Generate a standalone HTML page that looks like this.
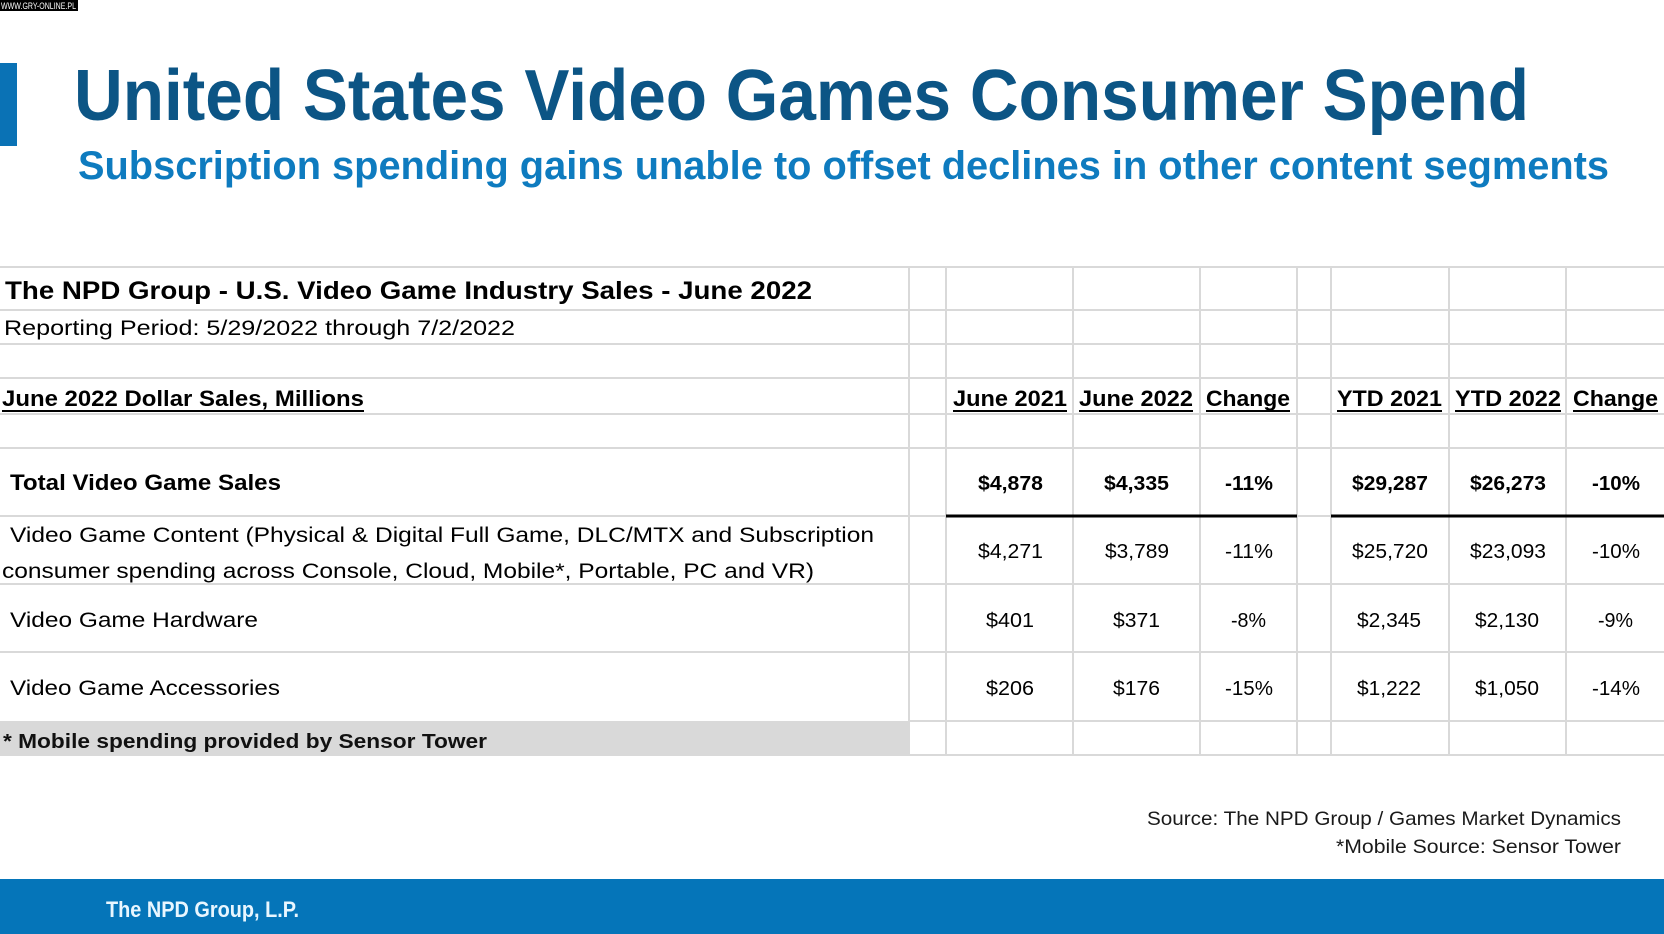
<!DOCTYPE html>
<html>
<head>
<meta charset="utf-8">
<style>
  html, body { margin:0; padding:0; background:#ffffff; }
  body { width:1664px; height:934px; overflow:hidden; }
  svg { display:block; }
  text { font-family: "Liberation Sans", "DejaVu Sans", sans-serif; }
</style>
</head>
<body>
<svg width="1664" height="934" viewBox="0 0 1664 934" xmlns="http://www.w3.org/2000/svg">
  <rect x="0" y="0" width="1664" height="934" fill="#ffffff"/>

  <!-- watermark -->
  <rect x="0" y="0" width="78" height="11" fill="#000000"/>
  <text x="1" y="9" font-size="9" fill="#ffffff" textLength="75" lengthAdjust="spacingAndGlyphs">WWW.GRY-ONLINE.PL</text>

  <!-- left accent bar -->
  <rect x="0" y="63" width="17" height="83" fill="#0a72b5"/>

  <!-- titles -->
  <text x="74" y="120" font-size="72" font-weight="bold" fill="#0c5585" textLength="1455" lengthAdjust="spacingAndGlyphs">United States Video Games Consumer Spend</text>
  <text x="78" y="179" font-size="40" font-weight="bold" fill="#0e7bbf" textLength="1531" lengthAdjust="spacingAndGlyphs">Subscription spending gains unable to offset declines in other content segments</text>

  <!-- footnote row gray fill -->
  <rect x="0" y="721" width="909" height="34" fill="#d9d9d9"/>

  <!-- horizontal grid lines -->
  <g stroke="#d9d9d9" stroke-width="2">
    <line x1="0" y1="267" x2="1664" y2="267"/>
    <line x1="0" y1="310" x2="1664" y2="310"/>
    <line x1="0" y1="344" x2="1664" y2="344"/>
    <line x1="0" y1="378" x2="1664" y2="378"/>
    <line x1="0" y1="414" x2="1664" y2="414"/>
    <line x1="0" y1="448" x2="1664" y2="448"/>
    <line x1="0" y1="516" x2="946" y2="516"/>
    <line x1="1297" y1="516" x2="1331" y2="516"/>
    <line x1="0" y1="584" x2="1664" y2="584"/>
    <line x1="0" y1="652" x2="1664" y2="652"/>
    <line x1="909" y1="721" x2="1664" y2="721"/>
    <line x1="0" y1="755" x2="1664" y2="755"/>
  </g>
  <!-- vertical grid lines -->
  <g stroke="#d9d9d9" stroke-width="2">
    <line x1="909" y1="267" x2="909" y2="755"/>
    <line x1="946" y1="267" x2="946" y2="755"/>
    <line x1="1073" y1="267" x2="1073" y2="755"/>
    <line x1="1200" y1="267" x2="1200" y2="755"/>
    <line x1="1297" y1="267" x2="1297" y2="755"/>
    <line x1="1331" y1="267" x2="1331" y2="755"/>
    <line x1="1449" y1="267" x2="1449" y2="755"/>
    <line x1="1566" y1="267" x2="1566" y2="755"/>
  </g>
  <!-- black rule under totals -->
  <g stroke="#000000" stroke-width="3">
    <line x1="946" y1="516" x2="1297" y2="516"/>
    <line x1="1331" y1="516" x2="1664" y2="516"/>
  </g>

  <!-- table header text -->
  <text x="5" y="299" font-size="25" font-weight="bold" fill="#000" textLength="807" lengthAdjust="spacingAndGlyphs">The NPD Group - U.S. Video Game Industry Sales - June 2022</text>
  <text x="4" y="335" font-size="21" fill="#000" textLength="511" lengthAdjust="spacingAndGlyphs">Reporting Period: 5/29/2022 through 7/2/2022</text>

  <text x="2" y="406" font-size="22" font-weight="bold" fill="#000" textLength="362" lengthAdjust="spacingAndGlyphs">June 2022 Dollar Sales, Millions</text>
  <text x="953" y="406" font-size="22" font-weight="bold" fill="#000" textLength="114" lengthAdjust="spacingAndGlyphs">June 2021</text>
  <text x="1079" y="406" font-size="22" font-weight="bold" fill="#000" textLength="114" lengthAdjust="spacingAndGlyphs">June 2022</text>
  <text x="1206" y="406" font-size="22" font-weight="bold" fill="#000" textLength="84" lengthAdjust="spacingAndGlyphs">Change</text>
  <text x="1337" y="406" font-size="22" font-weight="bold" fill="#000" textLength="105" lengthAdjust="spacingAndGlyphs">YTD 2021</text>
  <text x="1455" y="406" font-size="22" font-weight="bold" fill="#000" textLength="106" lengthAdjust="spacingAndGlyphs">YTD 2022</text>
  <text x="1573" y="406" font-size="22" font-weight="bold" fill="#000" textLength="85" lengthAdjust="spacingAndGlyphs">Change</text>
  <g stroke="#000" stroke-width="2">
    <line x1="2" y1="411" x2="364" y2="411"/>
    <line x1="953" y1="411" x2="1067" y2="411"/>
    <line x1="1079" y1="411" x2="1193" y2="411"/>
    <line x1="1206" y1="411" x2="1290" y2="411"/>
    <line x1="1337" y1="411" x2="1442" y2="411"/>
    <line x1="1455" y1="411" x2="1561" y2="411"/>
    <line x1="1573" y1="411" x2="1658" y2="411"/>
  </g>

  <!-- Total row -->
  <text x="10" y="490" font-size="22" font-weight="bold" fill="#000" textLength="271" lengthAdjust="spacingAndGlyphs">Total Video Game Sales</text>
  <g font-size="20" font-weight="bold" fill="#000">
    <text x="978" y="490" textLength="65" lengthAdjust="spacingAndGlyphs">$4,878</text>
    <text x="1104" y="490" textLength="65" lengthAdjust="spacingAndGlyphs">$4,335</text>
    <text x="1225" y="490" textLength="48" lengthAdjust="spacingAndGlyphs">-11%</text>
    <text x="1352" y="490" textLength="76" lengthAdjust="spacingAndGlyphs">$29,287</text>
    <text x="1470" y="490" textLength="76" lengthAdjust="spacingAndGlyphs">$26,273</text>
    <text x="1592" y="490" textLength="48" lengthAdjust="spacingAndGlyphs">-10%</text>
  </g>

  <!-- Content row -->
  <text x="10" y="542" font-size="21.5" fill="#000" textLength="864" lengthAdjust="spacingAndGlyphs">Video Game Content (Physical &amp; Digital Full Game, DLC/MTX and Subscription</text>
  <text x="2" y="578" font-size="21.5" fill="#000" textLength="812" lengthAdjust="spacingAndGlyphs">consumer spending across Console, Cloud, Mobile*, Portable, PC and VR)</text>
  <g font-size="20" fill="#000">
    <text x="978" y="558" textLength="65" lengthAdjust="spacingAndGlyphs">$4,271</text>
    <text x="1105" y="558" textLength="64" lengthAdjust="spacingAndGlyphs">$3,789</text>
    <text x="1225" y="558" textLength="48" lengthAdjust="spacingAndGlyphs">-11%</text>
    <text x="1352" y="558" textLength="76" lengthAdjust="spacingAndGlyphs">$25,720</text>
    <text x="1470" y="558" textLength="76" lengthAdjust="spacingAndGlyphs">$23,093</text>
    <text x="1592" y="558" textLength="48" lengthAdjust="spacingAndGlyphs">-10%</text>
  </g>

  <!-- Hardware row -->
  <text x="10" y="627" font-size="21.5" fill="#000" textLength="248" lengthAdjust="spacingAndGlyphs">Video Game Hardware</text>
  <g font-size="20" fill="#000">
    <text x="986" y="627" textLength="48" lengthAdjust="spacingAndGlyphs">$401</text>
    <text x="1113" y="627" textLength="47" lengthAdjust="spacingAndGlyphs">$371</text>
    <text x="1231" y="627" textLength="35" lengthAdjust="spacingAndGlyphs">-8%</text>
    <text x="1357" y="627" textLength="64" lengthAdjust="spacingAndGlyphs">$2,345</text>
    <text x="1475" y="627" textLength="64" lengthAdjust="spacingAndGlyphs">$2,130</text>
    <text x="1598" y="627" textLength="35" lengthAdjust="spacingAndGlyphs">-9%</text>
  </g>

  <!-- Accessories row -->
  <text x="10" y="695" font-size="21.5" fill="#000" textLength="270" lengthAdjust="spacingAndGlyphs">Video Game Accessories</text>
  <g font-size="20" fill="#000">
    <text x="986" y="695" textLength="48" lengthAdjust="spacingAndGlyphs">$206</text>
    <text x="1113" y="695" textLength="47" lengthAdjust="spacingAndGlyphs">$176</text>
    <text x="1225" y="695" textLength="48" lengthAdjust="spacingAndGlyphs">-15%</text>
    <text x="1357" y="695" textLength="64" lengthAdjust="spacingAndGlyphs">$1,222</text>
    <text x="1475" y="695" textLength="64" lengthAdjust="spacingAndGlyphs">$1,050</text>
    <text x="1592" y="695" textLength="48" lengthAdjust="spacingAndGlyphs">-14%</text>
  </g>

  <!-- footnote -->
  <text x="3" y="748" font-size="20" font-weight="bold" fill="#111" textLength="484" lengthAdjust="spacingAndGlyphs">* Mobile spending provided by Sensor Tower</text>

  <!-- sources -->
  <text x="1147" y="825" font-size="19.5" fill="#1a1a1a" textLength="474" lengthAdjust="spacingAndGlyphs">Source: The NPD Group / Games Market Dynamics</text>
  <text x="1336" y="853" font-size="19.5" fill="#1a1a1a" textLength="285" lengthAdjust="spacingAndGlyphs">*Mobile Source: Sensor Tower</text>

  <!-- footer band -->
  <rect x="0" y="879" width="1664" height="55" fill="#0575b9"/>
  <text x="106" y="917" font-size="22" font-weight="bold" fill="#e8f6ff" textLength="193" lengthAdjust="spacingAndGlyphs">The NPD Group, L.P.</text>
</svg>
</body>
</html>
